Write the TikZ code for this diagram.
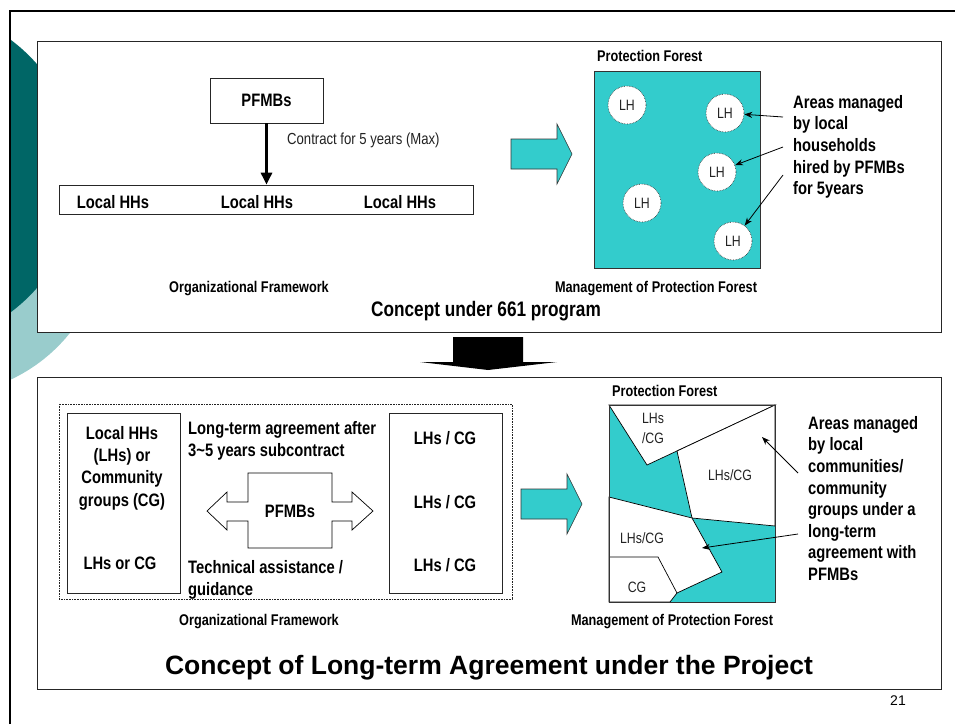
\documentclass[tikz,border=0pt]{standalone}
\usepackage{fontspec}
\setmainfont{Liberation Sans}
\newfontfamily\narrow[FakeStretch=0.82]{Liberation Sans}
\usetikzlibrary{arrows.meta}
\definecolor{tealdark}{HTML}{006666}
\definecolor{teallight}{HTML}{99CCCC}
\definecolor{forest}{HTML}{33CCCC}
\definecolor{ink}{HTML}{222222}

\begin{document}
\begin{tikzpicture}[x=1pt,y=-1pt,
  panel/.style={draw=black!85, line width=0.9pt, fill=white},
  box/.style={draw=black!85, line width=0.8pt},
  lbl/.style={font=\narrow\bfseries\fontsize{18}{21.6}\selectfont, inner sep=0pt},
  captxt/.style={font=\narrow\bfseries\fontsize{15.5}{18}\selectfont, inner sep=0pt},
  smalltxt/.style={font=\narrow\fontsize{15}{20}\selectfont, inner sep=0pt, text=ink},
  lh/.style={circle, fill=white, draw=ink, densely dotted, line width=0.6pt,
    minimum size=38pt, inner sep=0pt, font=\narrow\fontsize{15}{18}\selectfont, text=ink},
  pointer/.style={-{Stealth[length=8pt,width=6pt]}, line width=0.8pt},
  block/.style={fill=forest, draw=black!80, line width=0.6pt},
  zone/.style={fill=white, draw=black, line width=0.7pt},
]
\useasboundingbox (0,0) rectangle (955,724);

% slide ornament
\begin{scope}
  \clip (10,10) rectangle (955,724);
  \fill[teallight] (-59,230) circle[radius=165pt];
  \fill[tealdark] (-91,176) circle[radius=170pt];
\end{scope}
\draw[line width=2.4pt] (10,724) -- (10,10.8) -- (955,10.8);

% ---------- upper panel: 661 program ----------
\draw[panel] (37,41) rectangle (941,332);

\node[box, minimum width=113, minimum height=45, lbl] (pfmb) at (266.5,100.5) {PFMBs};
\node[box, minimum width=414, minimum height=29] (hh) at (266,199.5) {};
\node[lbl] (hh1) at (113,202) {Local HHs};
\node[lbl] (hh2) at (257,202) {Local HHs};
\node[lbl] (hh3) at (400,202) {Local HHs};
\draw[line width=3.6pt, -{Triangle[length=12pt,width=11pt]}] (pfmb.south) -- (pfmb.south |- hh.north);
\node[smalltxt, font=\narrow\fontsize{16}{19}\selectfont, anchor=west] (contract) at (287,140) {Contract for 5 years (Max)};

\node[captxt] (org1) at (249,289) {Organizational Framework};
\node[captxt] (mgt1) at (656,289) {Management of Protection Forest};
\node[font=\narrow\bfseries\fontsize{21}{24}\selectfont, inner sep=0pt] (c661) at (486,311) {Concept under 661 program};

\filldraw[block] (511,139) -- (557,139) -- (557,124) -- (572,154) -- (557,184) -- (557,169) -- (511,169) -- cycle;

\node[captxt, anchor=west] (pf1) at (597,56) {Protection Forest};
\draw[block] (594,71) rectangle (760,268);
\node[lh] (c1) at (627,105) {LH};
\node[lh] (c2) at (725,113) {LH};
\node[lh] (c3) at (717,172) {LH};
\node[lh] (c4) at (642,203) {LH};
\node[lh] (c5) at (733,241) {LH};

\node[lbl, align=left, anchor=north west] (note1) at (793,95)
  {Areas managed\\by local\\households\\hired by PFMBs\\for 5years};
\coordinate (p1) at (783,117);
\coordinate (p2) at (783,147);
\coordinate (p3) at (783,175);
\draw[pointer] (p1) -- (c2);
\draw[pointer] (p2) -- (c3);
\draw[pointer] (p3) -- (c5);

% transition arrow
\fill (453,337) -- (523,337) -- (523,362) -- (557,362) -- (488,370) -- (420,362) -- (453,362) -- cycle;

% ---------- lower panel: long-term agreement ----------
\draw[panel] (37,377) rectangle (941,689);
\draw[densely dotted, ink, line width=0.6pt] (59,404) rectangle (512,599);
\node[box, minimum width=113, minimum height=180] (lbox) at (123.5,503) {};
\node[box, minimum width=113, minimum height=180] (rbox) at (445.5,503) {};

\node[lbl, font=\narrow\bfseries\fontsize{18}{22.3}\selectfont, align=center, anchor=north] (lhs) at (122,426)
  {Local HHs\\(LHs) or\\Community\\groups (CG)};
\node[lbl] (lhcg) at (120,563) {LHs or CG};
\node[lbl] (r1) at (445,438) {LHs / CG};
\node[lbl] (r2) at (445,502) {LHs / CG};
\node[lbl] (r3) at (445,565) {LHs / CG};

\node[lbl, align=left, anchor=north west] (agree) at (188,421.5)
  {Long-term agreement after\\3\textasciitilde5 years subcontract};
\node[lbl, align=left, anchor=north west] (tech) at (188,560.5)
  {Technical assistance /\\guidance};

\filldraw[zone] (207,511) -- (227,492) -- (227,502) -- (248,502) -- (248,473) -- (332,473)
  -- (332,502) -- (352,502) -- (352,492) -- (373,511) -- (352,530) -- (352,521)
  -- (332,521) -- (332,548) -- (248,548) -- (248,521) -- (227,521) -- (227,530) -- cycle;
\node[lbl] (pf2) at (290,511) {PFMBs};

\filldraw[block] (521,489) -- (567,489) -- (567,474) -- (582,504) -- (567,534) -- (567,519) -- (521,519) -- cycle;

\node[captxt, anchor=west] (pf3) at (612,391) {Protection Forest};
\draw[block] (609,405) rectangle (775,602);
\filldraw[zone] (609,405) -- (775,405) -- (647,465) -- cycle;
\filldraw[zone] (677,451) -- (775,405) -- (775,526) -- (692,518) -- cycle;
\filldraw[zone] (609,497) -- (692,518) -- (722,572) -- (677,593) -- (670,602) -- (609,602) -- cycle;
\draw[line width=0.7pt] (609,557) -- (658,557) -- (677,593);
\draw[black!80, line width=0.6pt] (609,405) rectangle (775,602);

\node[smalltxt, align=center] (z1) at (653,428) {LHs\\/CG};
\node[smalltxt] (z2) at (730,475) {LHs/CG};
\node[smalltxt] (z3) at (642,538) {LHs/CG};
\node[smalltxt] (z4) at (637,587) {CG};

\node[lbl, align=left, anchor=north west] (note2) at (808,416)
  {Areas managed\\by local\\communities/\\community\\groups under a\\long-term\\agreement with\\PFMBs};
\coordinate (q1) at (798,473);
\coordinate (q1e) at (762,437);
\coordinate (q2) at (798,534);
\coordinate (q2e) at (702,548);
\draw[pointer] (q1) -- (q1e);
\draw[pointer] (q2) -- (q2e);

\node[captxt] (org2) at (259,622) {Organizational Framework};
\node[captxt] (mgt2) at (672,622) {Management of Protection Forest};
\node[font=\bfseries\fontsize{26.5}{30}\selectfont, inner sep=0pt] (title) at (489,668)
  {Concept of Long-term Agreement under the Project};

\node[font=\fontsize{14}{16}\selectfont, inner sep=0pt] (page) at (898,701) {21};
\end{tikzpicture}
\end{document}
